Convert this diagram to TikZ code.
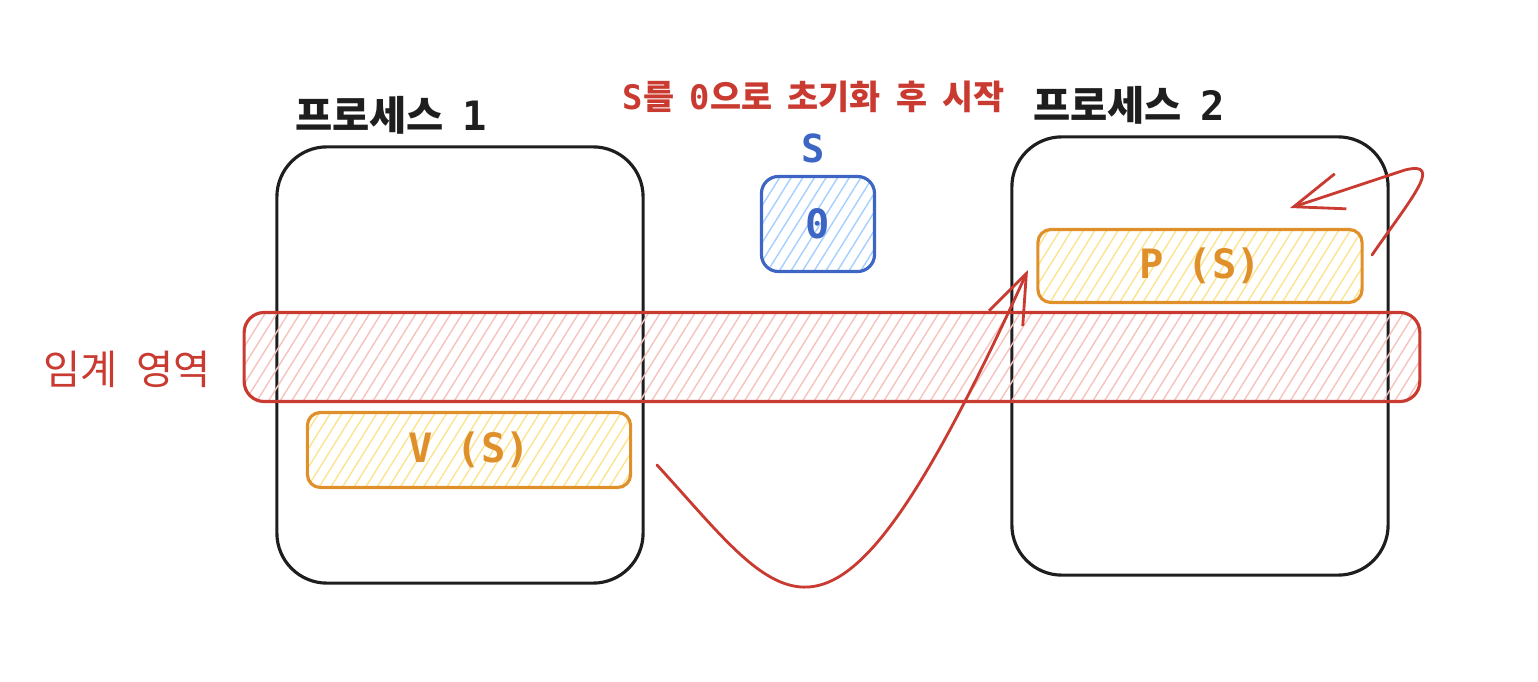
\documentclass[tikz,border=0pt]{standalone}
\usepackage{fontspec}
\newfontfamily\kr{Noto Sans CJK KR}[WordSpace=2]
\newfontfamily\mono{DejaVu Sans Mono}
\usetikzlibrary{arrows.meta,patterns.meta}
\definecolor{ink}{HTML}{1E1E1E}
\definecolor{crit}{HTML}{C93A30}
\definecolor{critfill}{HTML}{F6C2BE}
\definecolor{sem}{HTML}{3D66C4}
\definecolor{semfill}{HTML}{A5CFFF}
\definecolor{op}{HTML}{E0902A}
\definecolor{opfill}{HTML}{FBE490}
\begin{document}
\begin{tikzpicture}[x=0.01cm, y=-0.01cm, line join=round, line cap=round,
	>={Straight Barb[length=14pt,width=10.5pt]},
	hatch/.style={pattern={Lines[angle=58,distance=2.8pt,line width=0.4pt]}},
	proc/.style={draw=ink, line width=0.9pt, rounded corners=0.5cm},
	sembox/.style={draw=sem, line width=0.9pt, rounded corners=0.17cm, hatch, pattern color=semfill},
	opbox/.style={draw=op, line width=0.9pt, rounded corners=0.13cm, hatch, pattern color=opfill,
		text=op, font=\mono\bfseries\fontsize{11.5pt}{13pt}\selectfont},
	arr/.style={->, draw=crit, line width=0.8pt}]
	\useasboundingbox (0,0) rectangle (1538,682);
		\node[proc, minimum width=3.66cm, minimum height=4.36cm] (p1) at (460,365) {};
		\node[proc, minimum width=3.76cm, minimum height=4.38cm] (p2) at (1200,356) {};
		\node[draw=crit, line width=0.9pt, rounded corners=0.2cm, hatch, pattern color=critfill,
			minimum width=11.75cm, minimum height=0.89cm] (band) at (832,357) {};
		\node[opbox, minimum width=3.23cm, minimum height=0.75cm] (v) at (469,450) {V (S)};
		\node[opbox, minimum width=3.24cm, minimum height=0.73cm] (p) at (1200,266) {P (S)};
		\node[sembox, minimum width=1.13cm, minimum height=0.95cm, text=sem,
			font=\mono\bfseries\fontsize{11.5pt}{13pt}\selectfont] (s) at (818,224) {0};
		\node[text=sem, font=\mono\bfseries\fontsize{11pt}{13pt}\selectfont] (sname) at (813,148) {S};
		\node[text=ink, font=\fontsize{11.5pt}{13pt}\selectfont] (t1) at (391,115) {\kr\bfseries 프로세스\ \mono 1};
		\node[text=ink, font=\fontsize{11.5pt}{13pt}\selectfont] (t2) at (1129,105) {\kr\bfseries 프로세스\ \mono 2};
		\node[text=crit, font=\fontsize{9.6pt}{11pt}\selectfont] (init) at (814,97)
			{\bfseries\mono S\kr 를\ \mono 0\kr 으로 초기화 후 시작};
		\node[text=crit, font=\kr\fontsize{11.5pt}{13pt}\selectfont] (crit) at (127,369) {임계 영역};
		\coordinate (a1) at (657,465);
		\coordinate (a2) at (1028,270);
		\coordinate (b1) at (1372,255);
		\coordinate (b2) at (1290,208);
		\draw[arr] (a1) .. controls (790,610) and (830,705) .. (a2);
		\draw[arr] (b1) .. controls (1410,200) and (1445,160) .. (1405,170) -- (b2);
\end{tikzpicture}
\end{document}
